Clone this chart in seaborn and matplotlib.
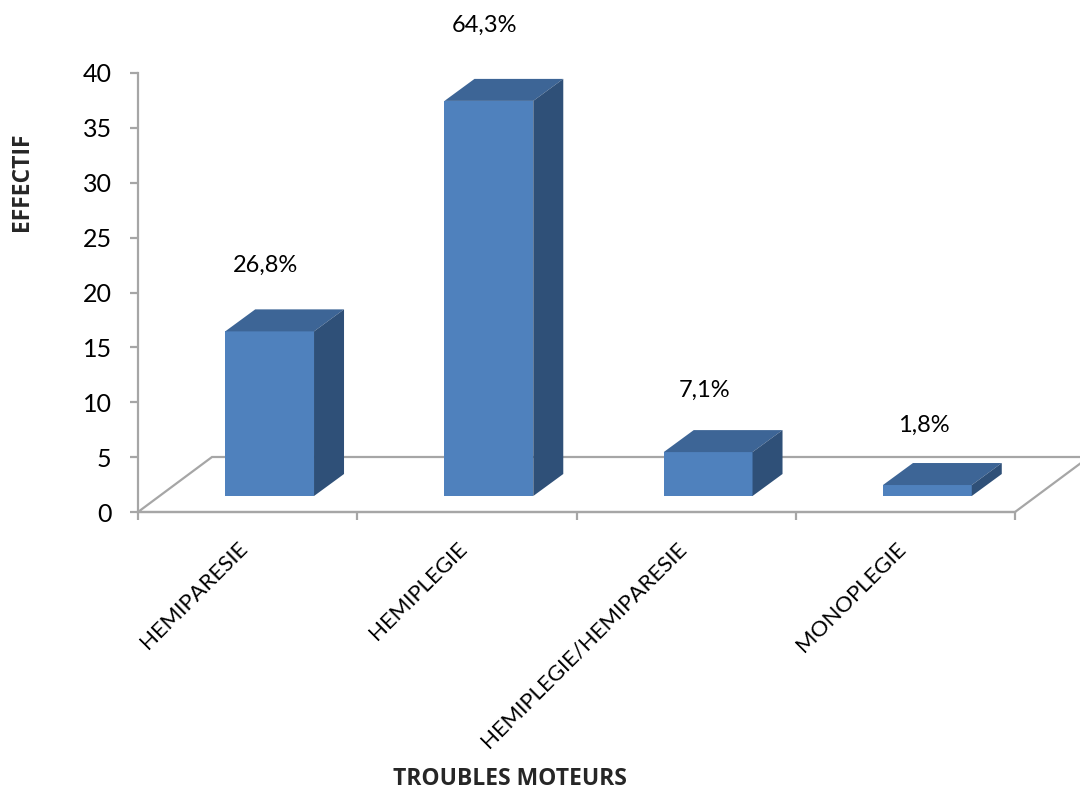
import matplotlib
matplotlib.use("Agg")
import matplotlib.pyplot as plt
import matplotlib.transforms as mtransforms
from matplotlib.patches import Polygon
import seaborn as sns
import pandas as pd

# Data
categories = ["HEMIPARESIE", "HEMIPLEGIE", "HEMIPLEGIE/HEMIPARESIE", "MONOPLEGIE"]
counts = [15, 36, 4, 1]
y_ticks = [0, 5, 10, 15, 20, 25, 30, 35, 40]
x_title = "TROUBLES MOTEURS"
y_title = "EFFECTIF"

total = sum(counts)
pct_labels = [f"{c / total * 100:.1f}".replace(".", ",") + "%" for c in counts]

df = pd.DataFrame({"trouble": categories, "effectif": counts})

sns.set_theme(style="white")
plt.rcParams["font.family"] = ["Lato", "DejaVu Sans"]
TITLE_FONT = ["Open Sans", "DejaVu Sans"]

DPI = 100
W, H = 1080, 791
fig = plt.figure(figsize=(W / DPI, H / DPI), dpi=DPI)
ax = fig.add_axes([138 / W, (H - 512) / H, 877 / W, 439 / H])

FRONT = "#4F81BD"
TOP = "#3D6596"
SIDE = "#2F5078"
AXIS_GREY = "#A6A6A6"

sns.barplot(data=df, x="trouble", y="effectif", color=FRONT, width=0.405,
            saturation=1, ax=ax, zorder=3)
ax.set_xlim(-0.5, len(categories) - 0.5)
ax.set_ylim(0, 40)

# pixel -> data unit conversion for the pseudo-3D depth
sx = ax.bbox.width / (ax.get_xlim()[1] - ax.get_xlim()[0])
sy = ax.bbox.height / (ax.get_ylim()[1] - ax.get_ylim()[0])

# bars sit part-way into the floor
shift_px = (22, 16)
sdx, sdy = shift_px[0] / sx, shift_px[1] / sy
# bar depth
depth_px = (30, 22)
ddx, ddy = depth_px[0] / sx, depth_px[1] / sy
# floor depth
floor_px = (74, 55)
fdx, fdy = floor_px[0] / sx, floor_px[1] / sy

# floor outline
x0, x1 = ax.get_xlim()
floor = Polygon([(x0, 0), (x1, 0), (x1 + fdx, fdy), (x0 + fdx, fdy)],
                closed=True, fill=False, edgecolor=AXIS_GREY, lw=1.6,
                clip_on=False, zorder=1)
ax.add_patch(floor)

for patch, val, lab in zip(ax.patches[:len(counts)], counts, pct_labels):
    bx = patch.get_x()
    bw = patch.get_width()
    bh = patch.get_height()
    patch.set_x(bx + sdx)
    patch.set_y(sdy)
    patch.set_edgecolor("none")
    patch.set_clip_on(False)
    lx, rx = bx + sdx, bx + sdx + bw
    yb, yt = sdy, sdy + bh
    top = Polygon([(lx, yt), (rx, yt), (rx + ddx, yt + ddy), (lx + ddx, yt + ddy)],
                  closed=True, facecolor=TOP, edgecolor="none", clip_on=False, zorder=3)
    side = Polygon([(rx, yb), (rx + ddx, yb + ddy), (rx + ddx, yt + ddy), (rx, yt)],
                   closed=True, facecolor=SIDE, edgecolor="none", clip_on=False, zorder=3)
    ax.add_patch(top)
    ax.add_patch(side)
    ax.text(lx + bw / 2 - 4 / sx, val * 1.04 + 6.9, lab, ha="center", va="center",
            fontsize=17, color="black", clip_on=False)

# axes styling
for s in ["top", "right"]:
    ax.spines[s].set_visible(False)
for s in ["left", "bottom"]:
    ax.spines[s].set_color(AXIS_GREY)
    ax.spines[s].set_linewidth(1.6)
    ax.spines[s].set_zorder(2)

ax.set_yticks(y_ticks)
ax.set_yticklabels([str(t) for t in y_ticks], fontsize=18)
ax.tick_params(axis="y", direction="out", length=6, width=1.6, color=AXIS_GREY,
               left=True, pad=13, labelcolor="black")

ax.set_xticks(range(len(categories)))
ax.set_xticklabels(categories, rotation=45, ha="right", va="top",
                   rotation_mode="anchor", fontsize=16)
ax.tick_params(axis="x", which="major", length=0, pad=19, labelcolor="black")
ax.set_xticks([i - 0.5 for i in range(len(categories) + 1)], minor=True)
ax.tick_params(axis="x", which="minor", direction="out", length=6, width=1.6,
               color=AXIS_GREY, bottom=True)
label_shift = mtransforms.ScaledTranslation(-0.10, 0, fig.dpi_scale_trans)
for t in ax.get_xticklabels():
    t.set_transform(t.get_transform() + label_shift)

ax.set_xlabel("")
ax.set_ylabel("")
fig.text(22 / W, 1 - 182 / H, y_title, rotation=90, ha="center", va="center",
         fontsize=16.5, fontweight="bold", family=TITLE_FONT)
fig.text(510 / W, 1 - 779 / H, x_title, ha="center", va="center",
         fontsize=16.5, fontweight="bold", family=TITLE_FONT)

fig.savefig("out.png", dpi=DPI)
